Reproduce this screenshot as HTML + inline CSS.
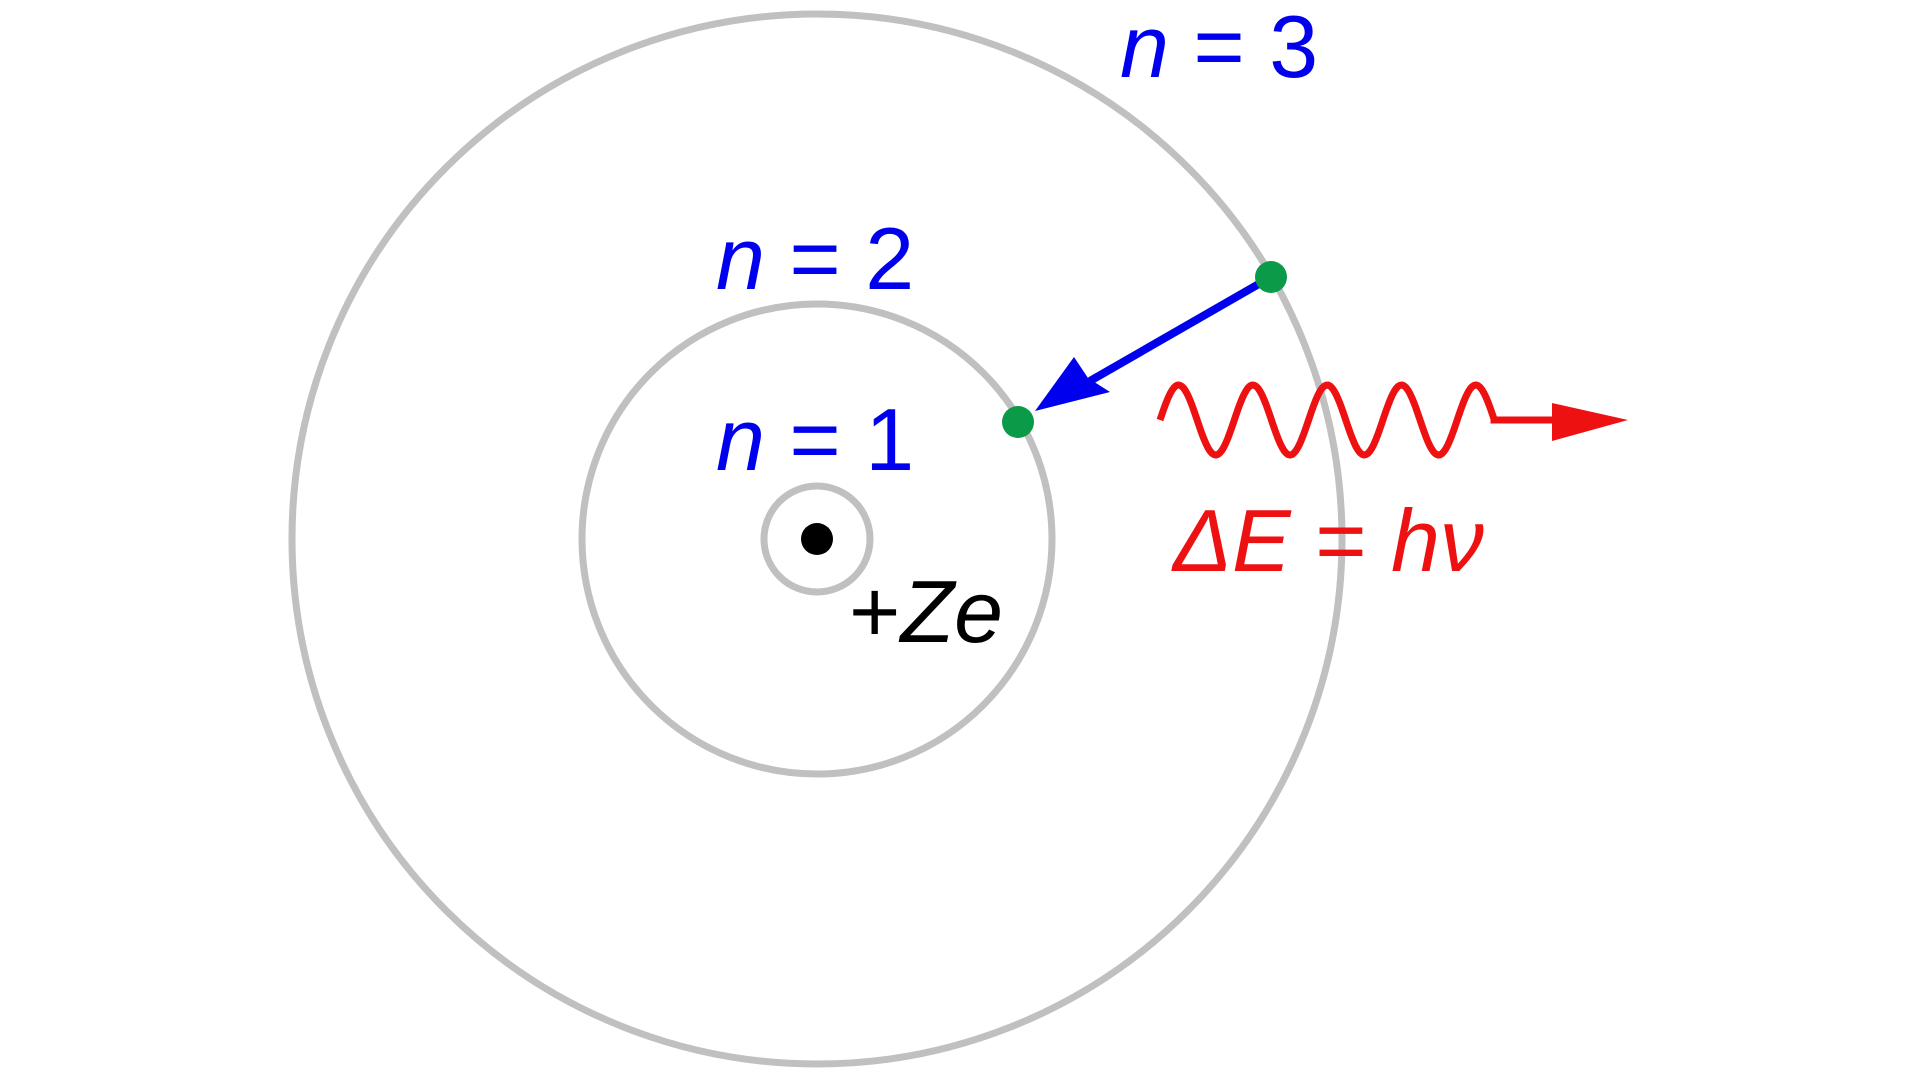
<!DOCTYPE html>
<html><head><style>html,body{margin:0;padding:0;background:#fff;}svg{display:block}</style></head>
<body>
<svg width="1920" height="1080" viewBox="0 0 1920 1080" xmlns="http://www.w3.org/2000/svg">
<g fill="none" stroke="#c0c0c0" stroke-width="7">
<circle cx="817" cy="539" r="525"/>
<circle cx="817" cy="539" r="235"/>
<circle cx="817" cy="539" r="53"/>
</g>
<circle cx="817" cy="539" r="16" fill="#000"/>
<line x1="1271" y1="277" x2="1090" y2="381" stroke="#0000ee" stroke-width="8"/>
<path d="M1035,411 L1074,357 L1088,378 L1110,392 Z" fill="#0000ee"/>
<circle cx="1271" cy="277" r="16" fill="#0a9a48"/>
<circle cx="1018" cy="422" r="16" fill="#0a9a48"/>
<path id="w" fill="none" stroke="#ee1111" stroke-width="7" d=""/>
<path d="M1552,403 L1628,420 L1552,441 Z" fill="#ee1111"/>
<g font-family="Liberation Sans, sans-serif" font-size="88" fill="#0000ee">
<text x="1120" y="77"><tspan font-style="italic">n</tspan> = 3</text>
<text x="716" y="289"><tspan font-style="italic">n</tspan> = 2</text>
<text x="716" y="470"><tspan font-style="italic">n</tspan> = 1</text>
</g>
<text x="1173" y="571" font-family="Liberation Sans, sans-serif" font-size="88" fill="#ee1111" font-style="italic">ΔE <tspan font-style="normal">=</tspan> hν</text>
<text x="849" y="642" font-family="Liberation Sans, sans-serif" font-size="88" fill="#000">+<tspan font-style="italic">Ze</tspan></text>
<script>
var d="",x0=1160,P=74.3,A=35,cy=420;
for(var i=0;i<=334;i+=2){var x=x0+i;var y=cy-A*Math.sin(2*Math.PI*i/P);d+=(i?"L":"M")+x.toFixed(1)+","+y.toFixed(1);}
d+="L1494,420 L1560,420";
document.getElementById("w").setAttribute("d",d);
</script>
</svg>
</body></html>
